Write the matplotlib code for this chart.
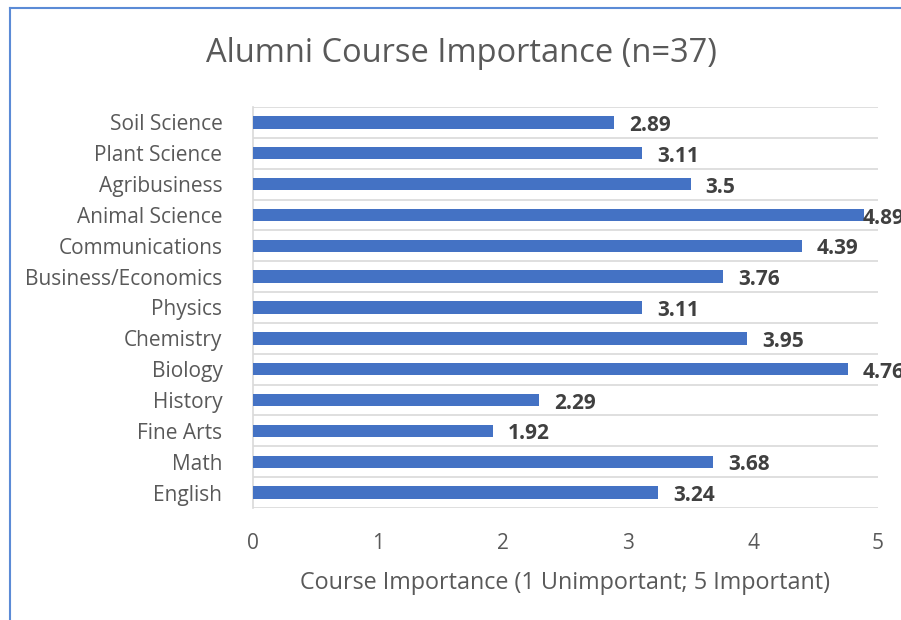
import matplotlib.pyplot as plt
from matplotlib.lines import Line2D
import numpy as np

plt.rcParams['font.family'] = ['Open Sans', 'DejaVu Sans']

courses = ["Soil Science", "Plant Science", "Agribusiness", "Animal Science",
           "Communications", "Business/Economics", "Physics", "Chemistry",
           "Biology", "History", "Fine Arts", "Math", "English"]
scores = [2.89, 3.11, 3.5, 4.89, 4.39, 3.76, 3.11, 3.95, 4.76, 2.29, 1.92, 3.68, 3.24]
score_labels = ["2.89", "3.11", "3.5", "4.89", "4.39", "3.76", "3.11", "3.95",
                "4.76", "2.29", "1.92", "3.68", "3.24"]
xticks = [0, 1, 2, 3, 4, 5]

blue = "#4472C4"
grid_col = "#d9d9d9"
txt = "#595959"

fig = plt.figure(figsize=(9.01, 6.2), dpi=100)
ax = fig.add_axes([253/901, 1-508/620, 625/901, 401/620])

# top category first
y = np.arange(len(courses))[::-1]
ax.barh(y, scores, height=0.4, color=blue, zorder=3)

# labels sit right of the bar; excel pulls them back near the right edge
for yi, v, lab in zip(y, scores, score_labels):
    lx = min(v + 0.12, 4.88)
    ax.text(lx, yi - 0.1, lab, ha="left", va="center", fontsize=15,
            fontweight="bold", color="#404040", clip_on=False, zorder=4)

ax.set_xlim(0, 5)
ax.set_ylim(-0.5, len(courses) - 0.5)
ax.set_xticks(xticks)
ax.set_yticks(y)
ax.set_yticklabels(courses)
ax.set_yticks(np.arange(len(courses) + 1) - 0.5, minor=True)
ax.grid(axis="y", which="minor", color=grid_col, linewidth=1.2, zorder=0)
ax.tick_params(axis="both", which="both", length=0, labelsize=15, colors=txt)
ax.tick_params(axis="x", pad=18)
ax.tick_params(axis="y", pad=22)
for s in ["top", "right", "bottom"]:
    ax.spines[s].set_visible(False)
ax.spines["left"].set_color(grid_col)
ax.spines["left"].set_linewidth(1.2)

ax.set_xlabel("Course Importance (1 Unimportant; 5 Important)", fontsize=16.8,
              color=txt, labelpad=12)
fig.text(0.512, 1-53/620, "Alumni Course Importance (n=37)", ha="center", va="center",
         fontsize=23.5, color=txt)

# chart frame (partially cropped)
fig.add_artist(Line2D([10/901, 10/901], [0, 1-8/620], color="#5b8bd6", lw=1.5))
fig.add_artist(Line2D([10/901, 1], [1-8/620, 1-8/620], color="#5b8bd6", lw=1.5))

fig.savefig("out.png", dpi=100)
